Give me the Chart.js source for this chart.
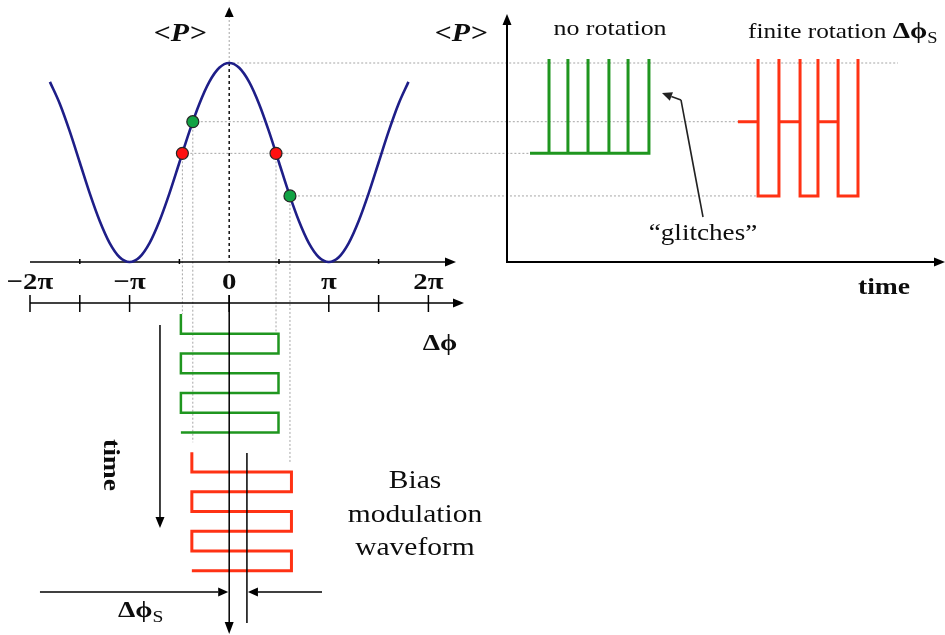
<!DOCTYPE html>
<html><head><meta charset="utf-8">
<script src="https://cdn.jsdelivr.net/npm/chart.js@4"></script>
<style>
html,body{margin:0;padding:0;background:#fff;}
#wrap{position:relative;width:945px;height:635px;overflow:hidden;background:#fff;}
#wrap canvas{position:absolute;left:0;top:0;}
</style></head><body>
<div id="wrap">
<canvas id="cA" width="945" height="635"></canvas>
<canvas id="cB" width="945" height="635"></canvas>
<canvas id="cC" width="945" height="635"></canvas>
</div>
<script>
// ===== DATA (phase in units of π, <P> normalised 0..1, time in arbitrary units) =====
const phiTicks = [-2, -1, 0, 1, 2];
const phiTickLabels = ['−2π', '−π', '0', 'π', '2π'];
const phiMinorTicks = [-1.5, -0.5, 0.5, 1.5];
const phiLowerTicks = [-2, -1.5, -1, 0, 1, 1.5, 2];

const curvePhi = [-1.8,-1.7,-1.6,-1.5,-1.4,-1.3,-1.2,-1.1,-1.0,-0.9,-0.8,-0.7,-0.6,-0.5,-0.4,-0.3,-0.2,-0.1,0,
                  0.1,0.2,0.3,0.4,0.5,0.6,0.7,0.8,0.9,1.0,1.1,1.2,1.3,1.4,1.5,1.6,1.7,1.8];
const curveP   = [0.905,0.794,0.655,0.500,0.345,0.206,0.095,0.024,0.000,0.024,0.095,0.206,0.345,0.500,0.655,0.794,0.905,0.976,1.000,
                  0.976,0.905,0.794,0.655,0.500,0.345,0.206,0.095,0.024,0.000,0.024,0.095,0.206,0.345,0.500,0.655,0.794,0.905];

// operating points: green-left, red-left, red-right, green-right
const markerPhi = [-0.3655, -0.47, 0.47, 0.61];
const markerP   = [0.705, 0.546, 0.546, 0.332];
const markerKind = ['g', 'r', 'r', 'g'];

// right panel: detector output vs time
const greenBaseStart = 1.155;
const greenPulseTimes = [2.11, 3.06, 4.07, 5.12, 6.08, 7.13];
const redLeadStart = 11.6;
const redEdgeTimes = [12.61, 13.66, 14.72, 15.62, 16.63, 17.63];
const spikeTopP = 1.02;
const topGuideEnd = 19.64;

// bottom panel: bias modulation waveforms (phase vs time, time downwards)
const greenWaveEdges = [-0.485, 0.495];
const greenWaveTimes = [0, 1, 2, 3, 4, 5, 6];
const redWaveEdges = [-0.375, 0.625];
const redWaveTimes = [7, 8, 9, 10, 11, 12, 13];
const vGuideEndTimes = [6.5, 0, 1, 7.6];
const shiftPhi = 0.178;
const shiftLineTimes = [7.04, 15.65];

// ===== helpers =====
const SERIF = '"Liberation Serif","Times New Roman",serif';
const INK = '#0d0d0d';
const GREEN = '#1f961f', RED = '#ff3214';
function poly(ctx, pts, w, color, dash) {
  ctx.save(); ctx.beginPath(); ctx.lineWidth = w; ctx.strokeStyle = color; ctx.setLineDash(dash || []);
  pts.forEach((p, i) => i ? ctx.lineTo(p[0], p[1]) : ctx.moveTo(p[0], p[1]));
  ctx.stroke(); ctx.restore();
}
function head(ctx, bx, by, x2, y2, half, color) {
  const a = Math.atan2(y2 - by, x2 - bx);
  ctx.save(); ctx.fillStyle = color; ctx.beginPath(); ctx.moveTo(x2, y2);
  ctx.lineTo(bx + half * Math.sin(a), by - half * Math.cos(a));
  ctx.lineTo(bx - half * Math.sin(a), by + half * Math.cos(a));
  ctx.closePath(); ctx.fill(); ctx.restore();
}
function arrow(ctx, x1, y1, x2, y2, w, color, len, half) {
  const a = Math.atan2(y2 - y1, x2 - x1);
  const bx = x2 - len * Math.cos(a), by = y2 - len * Math.sin(a);
  poly(ctx, [[x1, y1], [bx, by]], w, color);
  head(ctx, bx, by, x2, y2, half, color);
}
function txt(ctx, s, x, y, font, align, sx) {
  ctx.save(); ctx.font = font; ctx.fillStyle = INK; ctx.textBaseline = 'alphabetic'; ctx.textAlign = align || 'center';
  ctx.translate(x, y); ctx.scale(sx || 1, 1); ctx.fillText(s, 0, 0); ctx.restore();
}
function runs(ctx, parts, x, y, sx) { // left-aligned composite text
  let cx = x;
  parts.forEach(p => {
    ctx.save(); ctx.font = p.f; ctx.fillStyle = INK; ctx.textAlign = 'left'; ctx.textBaseline = 'alphabetic';
    ctx.translate(cx, y + (p.dy || 0)); ctx.scale(sx, 1); ctx.fillText(p.t, 0, 0);
    cx += ctx.measureText(p.t).width * sx; ctx.restore();
  });
}
function pulsePath(start, times, lo, top) {
  const pts = [{x: start, y: lo}];
  times.forEach((t, i) => { pts.push({x: t, y: lo}, {x: t, y: top}); if (i < times.length - 1) pts.push({x: t, y: lo}); });
  return pts;
}
function glitchPath(start, edges, hi, lo, top) {
  const pts = [{x: start, y: hi}];
  for (let i = 0; i < edges.length; i += 2) {
    const a = edges[i], b = edges[i + 1];
    pts.push({x: a, y: hi}, {x: a, y: top}, {x: a, y: lo}, {x: b, y: lo}, {x: b, y: top});
    if (i + 2 < edges.length) pts.push({x: b, y: hi});
  }
  return pts;
}
function serpentine(edges, times) {
  const L = edges[0], R = edges[1]; const pts = [{x: L, y: times[0]}]; let side = L;
  for (let i = 1; i < times.length; i++) {
    pts.push({x: side, y: times[i]}); side = side === L ? R : L; pts.push({x: side, y: times[i]});
  }
  return pts;
}
const common = {
  responsive: false, animation: false, events: [],
  plugins: {legend: {display: false}, tooltip: {enabled: false}}
};
const lineDs = (data, color, w) => ({data, showLine: true, borderColor: color, borderWidth: w, pointRadius: 0,
  tension: 0, borderJoinStyle: 'miter', borderCapStyle: 'butt', clip: false, fill: false});

// ===== Chart B: right panel =====
const hiP = markerP[0], loP = markerP[3], baseP = markerP[1];
const chartB = new Chart(document.getElementById('cB'), {
  type: 'scatter',
  data: {datasets: [
    lineDs(pulsePath(greenBaseStart, greenPulseTimes, baseP, spikeTopP), GREEN, 3),
    lineDs(glitchPath(redLeadStart, redEdgeTimes, hiP, loP, spikeTopP), RED, 3)
  ]},
  options: Object.assign({}, common, {
    layout: {padding: {left: 507, right: 0, top: 63, bottom: 373}},
    scales: {x: {type: 'linear', min: 0, max: 22, display: false}, y: {min: 0, max: 1, display: false}}
  }),
  plugins: [{
    id: 'rightDeco',
    afterDatasetsDraw(chart) {
      const ctx = chart.ctx, a = chart.chartArea;
      arrow(ctx, a.left, a.bottom + 1, a.left, 14, 2, '#000', 11, 4.5);
      arrow(ctx, a.left - 1, a.bottom, 945, a.bottom, 2, '#000', 11, 4.5);
      txt(ctx, '<P>', 461, 41, 'italic bold 26px ' + SERIF, 'center', 1.15);
      txt(ctx, 'no rotation', 610, 35, '22px ' + SERIF, 'center', 1.18);
      runs(ctx, [{t: 'finite rotation ', f: '22px ' + SERIF}, {t: 'Δϕ', f: 'bold 24px ' + SERIF},
                 {t: 'S', f: '16px ' + SERIF, dy: 5}], 748, 38, 1.15);
      txt(ctx, '“glitches”', 703, 240, '23px ' + SERIF, 'center', 1.18);
      txt(ctx, 'time', 884, 294, 'bold 24px ' + SERIF, 'center', 1.15);
      poly(ctx, [[703, 217], [681, 100]], 1.6, '#222');
      arrow(ctx, 681, 100, 662, 93, 1.6, '#222', 10, 4.5);
    }
  }]
});

// ===== Chart C: bottom panel (time downward) =====
const chartC = new Chart(document.getElementById('cC'), {
  type: 'scatter',
  data: {datasets: [
    lineDs(serpentine(greenWaveEdges, greenWaveTimes), GREEN, 2.5),
    lineDs(serpentine(redWaveEdges, redWaveTimes), RED, 3)
  ]},
  options: Object.assign({}, common, {
    layout: {padding: {left: 30, right: 516.6, top: 314, bottom: 5}},
    scales: {x: {type: 'linear', min: -2, max: 2, display: false}, y: {min: 0, max: 16, reverse: true, display: false}}
  }),
  plugins: [{
    id: 'bottomDeco',
    afterDatasetsDraw(chart) {
      const ctx = chart.ctx, x = chart.scales.x, y = chart.scales.y;
      const X0 = x.getPixelForValue(0), XS = x.getPixelForValue(shiftPhi);
      arrow(ctx, X0, 295, X0, 634, 1.5, '#000', 12, 4.5);
      poly(ctx, [[XS, y.getPixelForValue(shiftLineTimes[0])], [XS, y.getPixelForValue(shiftLineTimes[1])]], 1.5, '#000');
      const ya = y.getPixelForValue(14.08);
      arrow(ctx, x.getPixelForValue(-1.9), ya, X0 - 1, ya, 1.5, '#000', 10, 4.5);
      arrow(ctx, x.getPixelForValue(0.932), ya, XS + 1, ya, 1.5, '#000', 10, 4.5);
      runs(ctx, [{t: 'Δϕ', f: 'bold 24px ' + SERIF}, {t: 'S', f: '17px ' + SERIF, dy: 5}], 118, 617, 1.15);
      const xt = x.getPixelForValue(-0.695);
      arrow(ctx, xt, y.getPixelForValue(0.56), xt, y.getPixelForValue(10.84), 1.5, '#000', 11, 4.5);
      ctx.save(); ctx.translate(110, 465); ctx.rotate(Math.PI / 2); ctx.scale(1.15, 1);
      ctx.font = 'bold 24px ' + SERIF; ctx.fillStyle = INK; ctx.textAlign = 'center'; ctx.textBaseline = 'middle';
      ctx.fillText('time', 0, 0); ctx.restore();
      txt(ctx, 'Bias', 415, 488, '25px ' + SERIF, 'center', 1.18);
      txt(ctx, 'modulation', 415, 522, '25px ' + SERIF, 'center', 1.18);
      txt(ctx, 'waveform', 415, 555, '25px ' + SERIF, 'center', 1.18);
    }
  }]
});

// ===== Chart A: <P> vs Δϕ =====
const chartA = new Chart(document.getElementById('cA'), {
  type: 'scatter',
  data: {datasets: [
    {data: markerPhi.map((v, i) => ({x: v, y: markerP[i]})), showLine: false, pointRadius: 6,
     pointBackgroundColor: markerKind.map(k => k === 'g' ? '#12a344' : '#ff1010'),
     pointBorderColor: '#262626', pointBorderWidth: 1.2, clip: false},
    {data: curvePhi.map((v, i) => ({x: v, y: curveP[i]})), showLine: true, borderColor: '#1e1e88', borderWidth: 2.6,
     pointRadius: 0, cubicInterpolationMode: 'monotone', clip: false, fill: false}
  ]},
  options: Object.assign({}, common, {
    layout: {padding: {left: 30, right: 516.6, top: 63, bottom: 373}},
    scales: {x: {type: 'linear', min: -2, max: 2, display: false}, y: {min: 0, max: 1, display: false}}
  }),
  plugins: [{
    id: 'leftDeco',
    beforeDatasetsDraw(chart) {
      const ctx = chart.ctx, x = chart.scales.x, y = chart.scales.y;
      const bx = chartB.scales.x, cy = chartC.scales.y;
      const G = '#a6a6a6', D = [2, 2];
      // horizontal guides
      poly(ctx, [[x.getPixelForValue(0), y.getPixelForValue(1)], [bx.getPixelForValue(topGuideEnd), y.getPixelForValue(1)]], 1, G, D);
      const hEnds = [redLeadStart, greenBaseStart, null, redEdgeTimes[0]];
      markerPhi.forEach((v, i) => {
        const px = x.getPixelForValue(v), py = y.getPixelForValue(markerP[i]);
        if (hEnds[i] !== null) poly(ctx, [[px, py], [bx.getPixelForValue(hEnds[i]), py]], 1, G, D);
        poly(ctx, [[px, py], [px, cy.getPixelForValue(vGuideEndTimes[i])]], 1, G, D);
      });
      // vertical axis
      const X0 = x.getPixelForValue(0), Y0 = y.getPixelForValue(0), Y1 = y.getPixelForValue(1);
      poly(ctx, [[X0, 16], [X0, Y1]], 1, G, D);
      poly(ctx, [[X0, Y1], [X0, Y0]], 1.5, '#111', [3, 3]);
      head(ctx, X0, 17, X0, 7, 4.5, '#000');
      // x axes
      arrow(ctx, x.getPixelForValue(-2), Y0, 456, Y0, 1.5, '#000', 11, 4.5);
      phiMinorTicks.forEach(v => poly(ctx, [[x.getPixelForValue(v), Y0 - 3], [x.getPixelForValue(v), Y0 + 2]], 1.5, '#000'));
      const Y2 = Y0 + 41;
      arrow(ctx, x.getPixelForValue(-2), Y2, 464, Y2, 1.5, '#000', 11, 4.5);
      phiLowerTicks.forEach(v => poly(ctx, [[x.getPixelForValue(v), Y2 - 8], [x.getPixelForValue(v), Y2 + 9]], 1.5, '#000'));
      phiTicks.forEach((v, i) => txt(ctx, phiTickLabels[i], x.getPixelForValue(v), Y0 + 27, 'bold 24px ' + SERIF, 'center', 1.2));
      txt(ctx, '<P>', 180, 41, 'italic bold 26px ' + SERIF, 'center', 1.15);
      txt(ctx, 'Δϕ', 440, 350, 'bold 24px ' + SERIF, 'center', 1.15);
    }
  }]
});
</script>
</body></html>
